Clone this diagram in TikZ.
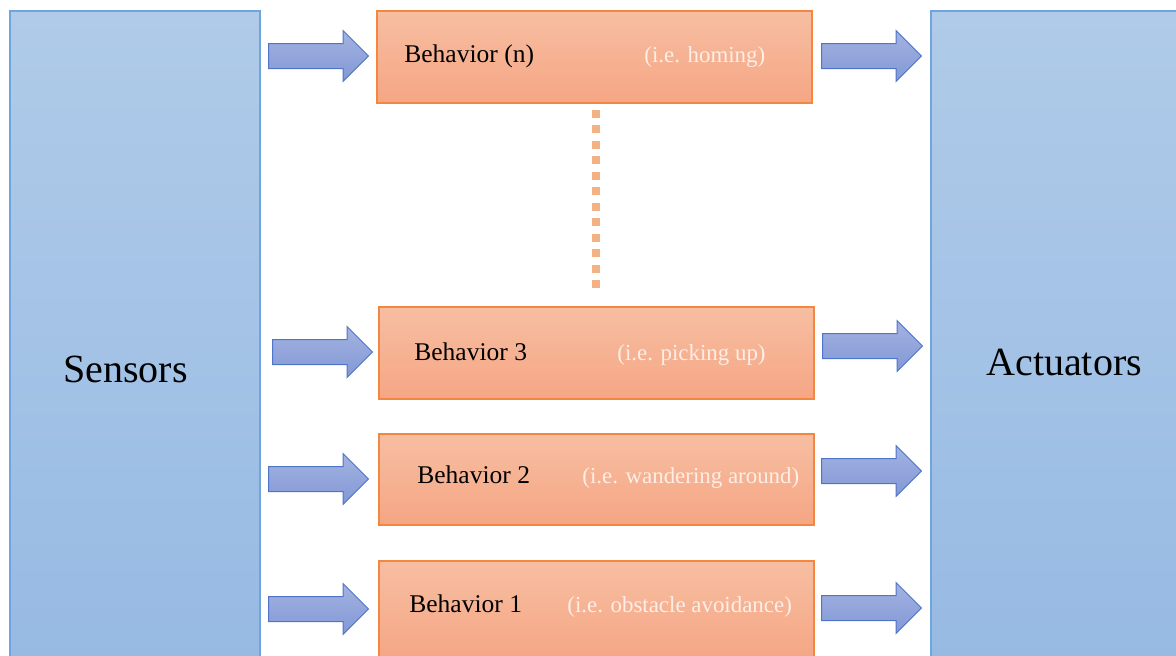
\documentclass[tikz,border=0pt]{standalone}
\usepackage{fontspec}
\setmainfont{Liberation Serif}
\usetikzlibrary{shapes.arrows}
\definecolor{bluetop}{HTML}{B0CBE9}
\definecolor{bluebot}{HTML}{97BAE3}
\definecolor{blueline}{HTML}{6FA4DD}
\definecolor{orgtop}{HTML}{F7BEA2}
\definecolor{orgbot}{HTML}{F5A684}
\definecolor{orgline}{HTML}{F4873F}
\definecolor{arrtop}{HTML}{A3B2E0}
\definecolor{arrbot}{HTML}{8298D6}
\definecolor{arrline}{HTML}{4F74C9}
\definecolor{dotcol}{HTML}{F4B183}
\definecolor{subtxt}{HTML}{FDEEE6}
\begin{document}
\begin{tikzpicture}[x=0.5pt,y=-0.5pt,
  bigbox/.style={draw=blueline, line width=0.75pt, top color=bluetop, bottom color=bluebot,
    rectangle, inner sep=0pt, minimum width=125pt, minimum height=325pt, anchor=north west},
  behbox/.style={draw=orgline, line width=0.75pt, top color=orgtop, bottom color=orgbot,
    rectangle, inner sep=0pt, minimum width=217.5pt, anchor=north west},
  barrow/.style={single arrow, draw=arrline, line width=0.5pt, top color=arrtop, bottom color=arrbot,
    inner xsep=0pt, inner ysep=6pt, minimum height=50pt, minimum width=25pt,
    single arrow head extend=6.5pt, single arrow head indent=0pt, anchor=tail},
  bigtxt/.style={inner sep=0pt, anchor=base west, font=\fontsize{20pt}{24pt}\selectfont},
  behtxt/.style={inner sep=0pt, anchor=base west, font=\fontsize{12.75pt}{15pt}\selectfont},
  subtext/.style={inner sep=0pt, anchor=base west, font=\fontsize{11.45pt}{14pt}\selectfont, text=subtxt},
  dotline/.style={draw=dotcol, line width=4pt, dash pattern=on 4pt off 3.75pt}
]
\useasboundingbox (0,0) rectangle (1176,655);
% side boxes
\node[bigbox] (S) at (9,10) {};
\node[bigbox] (A) at (930,10) {};
\node[bigtxt] (Stxt) at (63,382) {Sensors};
\node[bigtxt] (Atxt) at (986,375) {Actuators};
% behavior boxes
\node[behbox, minimum height=46pt] (Bn) at (376,10) {};
\node[behbox, minimum height=46pt] (B3) at (378,306) {};
\node[behbox, minimum height=45.5pt] (B2) at (378,433) {};
\node[behbox, minimum height=50pt] (B1) at (378,560) {};
% texts
\node[behtxt] (tn) at (404,62.7) {Behavior (n)};
\node[subtext] (sn) at (644,62.7) {(i.e. homing)};
\node[behtxt] (t3) at (414,360.7) {Behavior 3};
\node[subtext] (s3) at (617,360.7) {(i.e. picking up)};
\node[behtxt] (t2) at (417,483.3) {Behavior 2};
\node[subtext] (s2) at (582,483.3) {(i.e. wandering around)};
\node[behtxt] (t1) at (409,612.7) {Behavior 1};
\node[subtext] (s1) at (567,612.7) {(i.e. obstacle avoidance)};
% input arrows
\node[barrow] (in) at (268,56) {};
\node[barrow] (i3) at (272,352) {};
\node[barrow] (i2) at (268,479) {};
\node[barrow] (i1) at (268,609) {};
% output arrows
\node[barrow] (on) at (821,56) {};
\node[barrow] (o3) at (822,346) {};
\node[barrow] (o2) at (821,471) {};
\node[barrow] (o1) at (821,608) {};
% dotted connection
\draw[dotline, shorten <=3pt, shorten >=5.5pt] (B3.north |- Bn.south) -- (B3.north);
\end{tikzpicture}
\end{document}
